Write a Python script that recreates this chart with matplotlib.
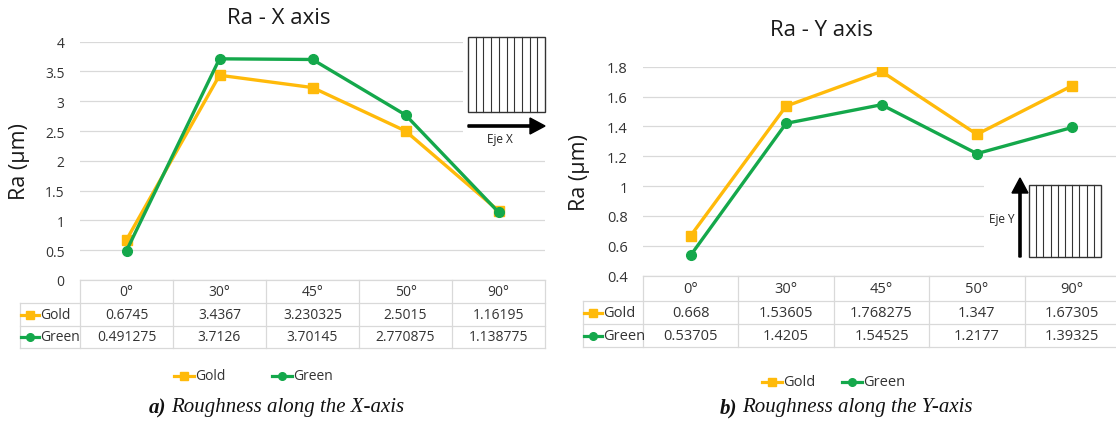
import matplotlib.pyplot as plt
import matplotlib.transforms as mtransforms
from matplotlib.patches import Rectangle, FancyArrow

# datos
angulos = ["0°", "30°", "45°", "50°", "90°"]
gold_x = [0.6745, 3.4367, 3.230325, 2.5015, 1.16195]
green_x = [0.491275, 3.7126, 3.70145, 2.770875, 1.138775]
gold_y = [0.668, 1.53605, 1.768275, 1.347, 1.67305]
green_y = [0.53705, 1.4205, 1.54525, 1.2177, 1.39325]
etiquetas_x = ["0.6745", "3.4367", "3.230325", "2.5015", "1.16195"], ["0.491275", "3.7126", "3.70145", "2.770875", "1.138775"]
etiquetas_y = ["0.668", "1.53605", "1.768275", "1.347", "1.67305"], ["0.53705", "1.4205", "1.54525", "1.2177", "1.39325"]
series = ["Gold", "Green"]

GOLD = '#FFBA0A'
GREEN = '#14A84B'
GRID = '#D9D9D9'
TXT = '#333333'
W, H = 1116, 427
FONT = 'Open Sans'

fig = plt.figure(figsize=(W / 100, H / 100), dpi=100)


def fy(py):
    # pixel desde arriba -> fraccion de figura
    return 1 - py / H


def grafico(x0, x1, ytop, ybot, ylim, yticks, ticklabels, datos, etiquetas, titulo, tx, ty,
            lx, rows, legend, caption, capx, fs):
    ax = fig.add_axes([x0 / W, fy(ybot), (x1 - x0) / W, (ybot - ytop) / H])
    xs = range(len(angulos))
    ax.plot(xs, datos[0], color=GOLD, lw=2.4, marker='s', ms=7, zorder=3)
    ax.plot(xs, datos[1], color=GREEN, lw=2.4, marker='o', ms=7, zorder=4)
    ax.set_xlim(-0.5, len(angulos) - 0.5)
    ax.set_ylim(*ylim)
    ax.set_yticks(yticks)
    ax.set_yticklabels(ticklabels, fontsize=fs, color=TXT, family=FONT)
    ax.set_xticks([])
    ax.tick_params(axis='y', length=0, pad=11)
    ax.yaxis.grid(True, color=GRID, lw=0.9)
    ax.set_axisbelow(True)
    for s in ax.spines.values():
        s.set_visible(False)
    ax.patch.set_alpha(0)

    fig.text(tx / W, fy(ty), titulo, fontsize=16, color='#1a1a1a', family=FONT, ha='center', va='center')
    fig.text(lx / W, fy((ytop + ybot) / 2), "Ra (µm)", fontsize=15.5, color='#1a1a1a', family=FONT,
             rotation=90, ha='center', va='center')

    # tabla de datos
    tr = mtransforms.blended_transform_factory(ax.transData, fig.transFigure)
    r0, r1, r2, r3 = rows
    n = len(angulos)
    kw = dict(color=GRID, lw=0.9, clip_on=False)
    ax.plot([-0.5, n - 0.5], [fy(r0), fy(r0)], transform=tr, **kw)
    lab_x0 = x0 - 60
    for r in (r1, r2, r3):
        ax.plot([lab_x0 / W, x1 / W], [fy(r), fy(r)], transform=fig.transFigure, **kw)
    for i in range(n + 1):
        ax.plot([i - 0.5, i - 0.5], [fy(r0), fy(r3)], transform=tr, **kw)
    ax.plot([lab_x0 / W, lab_x0 / W], [fy(r1), fy(r3)], transform=fig.transFigure, **kw)
    for i, a in enumerate(angulos):
        ax.text(i, fy((r0 + r1) / 2), a, transform=tr, ha='center', va='center', fontsize=fs,
                color=TXT, family=FONT)
        ax.text(i, fy((r1 + r2) / 2), etiquetas[0][i], transform=tr, ha='center', va='center',
                fontsize=fs, color=TXT, family=FONT)
        ax.text(i, fy((r2 + r3) / 2), etiquetas[1][i], transform=tr, ha='center', va='center',
                fontsize=fs, color=TXT, family=FONT)
    for j, (nombre, col, mk) in enumerate(zip(series, [GOLD, GREEN], ['s', 'o'])):
        yc = fy((r1 + r2) / 2) if j == 0 else fy((r2 + r3) / 2)
        xa = (lab_x0 + 1) / W
        xb = (lab_x0 + 19) / W
        fig.add_artist(plt.Line2D([xa, xb], [yc, yc], color=col, lw=2.3, transform=fig.transFigure))
        fig.add_artist(plt.Line2D([(xa + xb) / 2], [yc], color=col, marker=mk, ms=5.5,
                                  transform=fig.transFigure))
        fig.text((lab_x0 + 20) / W, yc, nombre, ha='left', va='center', fontsize=fs, color=TXT,
                 family=FONT)

    # leyenda
    ly = fy(legend[2])
    for (px, nombre, col, mk) in zip(legend[:2], series, [GOLD, GREEN], ['s', 'o']):
        xa, xb = px / W, (px + 20) / W
        fig.add_artist(plt.Line2D([xa, xb], [ly, ly], color=col, lw=2.3, transform=fig.transFigure))
        fig.add_artist(plt.Line2D([(xa + xb) / 2], [ly], color=col, marker=mk, ms=5.5,
                                  transform=fig.transFigure))
        fig.text((px + 21) / W, ly, nombre, ha='left', va='center', fontsize=fs, color=TXT, family=FONT)

    # pie de figura
    fig.text(capx / W, fy(408), caption[0], ha='right', va='center', fontsize=15,
             family='Liberation Serif', style='italic', weight='bold', color='#111111')
    fig.text((capx + 5) / W, fy(408), caption[1], ha='left', va='center', fontsize=15,
             family='Liberation Serif', style='italic', color='#111111')
    return ax


def rayas(x0, y0, x1, y1):
    fig.add_artist(Rectangle((x0 / W, fy(y1)), (x1 - x0) / W, (y1 - y0) / H, transform=fig.transFigure,
                             facecolor='white', edgecolor='#333333', lw=1.0))
    for k in range(1, 10):
        xx = (x0 + (x1 - x0) * k / 10) / W
        fig.add_artist(plt.Line2D([xx, xx], [fy(y1), fy(y0)], color='#333333', lw=0.8,
                                  transform=fig.transFigure))


ax1 = grafico(80, 545, 42.7, 281, (0, 4), [0, 0.5, 1, 1.5, 2, 2.5, 3, 3.5, 4],
              ["0", "0.5", "1", "1.5", "2", "2.5", "3", "3.5", "4"], [gold_x, green_x], etiquetas_x,
              "Ra - X axis", 279, 18, 20, (281, 304, 327, 349), (174, 272, 377),
              ("a)", "Roughness along the X-axis"), 166, 10)

ax2 = grafico(643, 1120, 67.7, 276.7, (0.4, 1.8), [0.4, 0.6, 0.8, 1, 1.2, 1.4, 1.6, 1.8],
              ["0.4", "0.6", "0.8", "1", "1.2", "1.4", "1.6", "1.8"], [gold_y, green_y], etiquetas_y,
              "Ra - Y axis", 822, 30, 580, (277, 302, 325, 348), (762, 842, 383),
              ("b)", "Roughness along the Y-axis"), 737, 10.5)

# insertos
fig.add_artist(Rectangle((463 / W, fy(150)), 90 / W, 116 / H, transform=fig.transFigure,
                         facecolor='white', edgecolor='none'))
rayas(468, 38, 545, 113)
fig.add_artist(FancyArrow(468 / W, fy(127), 62 / W, 0, width=2.2 / H, head_width=16 / H,
                          head_length=15 / W, length_includes_head=False, color='black',
                          transform=fig.transFigure))
fig.text(500 / W, fy(140), "Eje X", ha='center', va='center', fontsize=8.5, color='#222222', family=FONT)

fig.add_artist(Rectangle((984 / W, fy(268)), 132 / W, 95 / H, transform=fig.transFigure,
                         facecolor='white', edgecolor='none'))
rayas(1029, 186, 1101, 258)
fig.add_artist(FancyArrow(1020 / W, fy(258), 0, 64 / H, width=2.2 / W, head_width=16 / W,
                          head_length=15 / H, length_includes_head=False, color='black',
                          transform=fig.transFigure))
fig.text(1002 / W, fy(220), "Eje Y", ha='center', va='center', fontsize=8.5, color='#222222', family=FONT)

fig.savefig('out.png', dpi=100)
